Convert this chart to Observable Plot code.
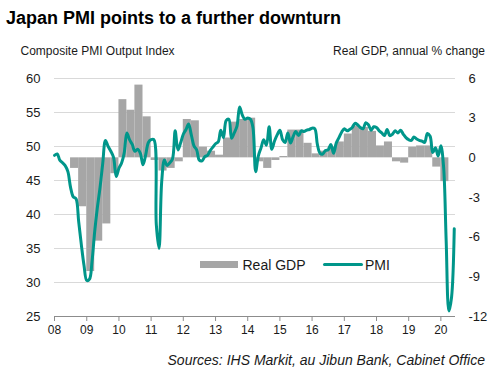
<!DOCTYPE html>
<html><head><meta charset="utf-8">
<script src="https://cdn.jsdelivr.net/npm/d3@7"></script>
<script src="https://cdn.jsdelivr.net/npm/@observablehq/plot@0.6"></script>
<style>
body{margin:0;background:#fff;font-family:"Liberation Sans",Arial,sans-serif;}
#wrap{position:relative;width:492px;height:379px;overflow:hidden;background:#fff;}
.t{position:absolute;white-space:nowrap;color:#1a1a1a;line-height:1;}
#chart{position:absolute;left:0;top:62px;}
</style></head><body>
<div id="wrap">
<div class="t" style="left:6px;top:9.4px;font-size:18px;font-weight:bold;color:#000;">Japan PMI points to a further downturn</div>
<div class="t" style="left:20.5px;top:45.3px;font-size:12px;">Composite PMI Output Index</div>
<div class="t" style="right:7px;top:45.3px;font-size:12px;">Real GDP, annual % change</div>
<div id="chart"></div>
<div style="position:absolute;left:200px;top:261px;width:38px;height:6.5px;background:#a6a6a6;"></div>
<div class="t" style="left:242.5px;top:257.5px;font-size:14px;">Real GDP</div>
<div style="position:absolute;left:322.7px;top:262.5px;width:40.6px;height:3px;background:#00968a;border-radius:1.5px;"></div>
<div class="t" style="left:365px;top:257.5px;font-size:14px;">PMI</div>
<div class="t" style="right:7px;top:353.2px;font-size:14px;font-style:italic;">Sources: IHS Markit, au Jibun Bank, Cabinet Office</div>
</div>
<script>
// Composite PMI Output Index, monthly from Jan 2008
const pmiStartYear = 2008;
const pmiValues = [
  48.7, 48.9, 48.0, 47.6, 47.2, 46.3, 44.0, 42.6, 42.3, 39.0, 35.5, 32.5, // 2008
  30.3, 30.5, 33.0, 37.5, 41.0, 44.0, 47.5, 50.9, 50.0, 49.3, 48.4, 45.6, // 2009
  46.8, 47.6, 49.0, 52.0, 51.0, 50.3, 49.3, 49.6, 49.0, 47.3, 48.8, 50.6, // 2010
  51.0, 51.0, 38.5, 35.0, 44.8, 48.0, 47.2, 47.6, 48.2, 52.3, 49.5, 50.5, // 2011
  51.8, 52.5, 53.3, 51.7, 50.1, 49.5, 48.0, 47.9, 48.5, 48.7, 49.4, 49.9, // 2012
  50.4, 50.7, 52.4, 51.3, 53.8, 54.0, 51.2, 52.0, 53.0, 55.8, 54.6, 54.0, // 2013
  54.2, 54.0, 52.8, 46.3, 48.6, 49.8, 51.0, 50.2, 52.9, 49.6, 50.8, 51.7, // 2014
  52.4, 51.0, 50.6, 52.0, 50.5, 51.5, 52.2, 51.6, 52.3, 52.2, 52.4, 52.5, // 2015
  52.7, 52.6, 50.3, 49.0, 48.9, 49.4, 49.5, 50.3, 49.0, 50.5, 51.3, 52.1, // 2016
  52.6, 52.3, 52.5, 52.8, 53.4, 53.2, 52.8, 52.6, 53.5, 53.2, 52.4, 52.9, // 2017
  52.8, 52.3, 52.0, 51.6, 52.5, 51.6, 51.8, 52.3, 52.0, 52.4, 51.8, 51.3, // 2018
  51.0, 50.9, 51.4, 51.1, 50.9, 50.8, 50.6, 51.9, 51.5, 49.1, 49.8, 48.6, // 2019
  50.1, 47.0, 36.2, 25.8, 27.8, 37.9                                      // 2020
];
// Real GDP, annual % change, quarterly from 2008 Q3
const gdpStart = {year: 2008, quarter: 3};
const gdpValues = [
  -0.8, -3.7,             // 2008 Q3-Q4
  -8.6, -6.3, -5.0, -1.2, // 2009
   4.4,  3.6,  5.5,  3.1, // 2010
  -0.2, -1.0, -0.8, -0.3, // 2011
   2.9,  2.8,  0.8,  0.5, // 2012
   0.2,  1.5,  2.7,  2.9, // 2013
   3.0, -0.3, -0.8, -0.2, // 2014
   0.1,  2.1,  2.1,  1.1, // 2015
   0.3,  0.5,  0.8,  1.2, // 2016
   1.8,  2.4,  2.3,  2.0, // 2017
   0.9,  1.2, -0.3, -0.4, // 2018
   0.8,  0.9,  0.9, -0.7, // 2019
  -1.8                    // 2020 Q1
];
const pmiTicks = [25, 30, 35, 40, 45, 50, 55, 60];
const gdpTicks = [-12, -9, -6, -3, 0, 3, 6];
const yearTicks = d3.range(2008, 2021);

// map the right (GDP) axis onto the left (PMI) scale
const pmiDomain = [25, 60], gdpDomain = [-12, 6];
const gdpToPmi = g => pmiDomain[0] + (g - gdpDomain[0]) * (pmiDomain[1] - pmiDomain[0]) / (gdpDomain[1] - gdpDomain[0]);
const pmiToGdp = p => gdpDomain[0] + (p - pmiDomain[0]) * (gdpDomain[1] - gdpDomain[0]) / (pmiDomain[1] - pmiDomain[0]);

const pmi = pmiValues.map((v, i) => ({date: new Date(Date.UTC(pmiStartYear, i, 1)), value: v}));
const gdp = gdpValues.map((v, i) => {
  const q = gdpStart.quarter - 1 + i;
  return {
    start: new Date(Date.UTC(gdpStart.year, q * 3, 1)),
    end: new Date(Date.UTC(gdpStart.year, q * 3 + 3, 1)),
    value: v
  };
});

const teal = "#00968a";
const chart = Plot.plot({
  width: 492,
  height: 278,
  marginTop: 16,
  marginBottom: 24,
  marginLeft: 54,
  marginRight: 37,
  style: {fontFamily: "'Liberation Sans', Arial, sans-serif", background: "transparent", color: "#1a1a1a"},
  x: {type: "utc", domain: [new Date(Date.UTC(2008, 0, 1)), new Date(Date.UTC(2020, 5, 15))]},
  y: {domain: pmiDomain},
  marks: [
    Plot.ruleY(pmiTicks.filter(t => t > 25), {stroke: "#d9d9d9", strokeWidth: 1}),
    Plot.rect(gdp, {x1: "start", x2: "end", y1: () => gdpToPmi(0), y2: d => gdpToPmi(d.value), fill: "#a6a6a6"}),
    Plot.line(pmi, {x: "date", y: "value", stroke: teal, strokeWidth: 3, curve: "catmull-rom", strokeLinejoin: "round"}),
    Plot.ruleY([25], {stroke: "#8c8c8c", strokeWidth: 1}),
    Plot.axisX({
      ticks: yearTicks.map(y => new Date(Date.UTC(y, 0, 1))),
      tickFormat: d => d3.utcFormat("%y")(d),
      tickSize: 5, tickPadding: 4, stroke: "#8c8c8c", fill: "#1a1a1a", fontSize: 12, label: null
    }),
    Plot.axisY({anchor: "left", ticks: pmiTicks, tickSize: 0, tickPadding: 14, fontSize: 13, label: null, fill: "#1a1a1a"}),
    Plot.axisY({anchor: "right", ticks: gdpTicks.map(gdpToPmi), tickFormat: v => String(Math.round(pmiToGdp(v))),
      tickSize: 0, tickPadding: 13, fontSize: 13, label: null, fill: "#1a1a1a"})
  ]
});
document.getElementById("chart").appendChild(chart);
</script>
</body></html>
